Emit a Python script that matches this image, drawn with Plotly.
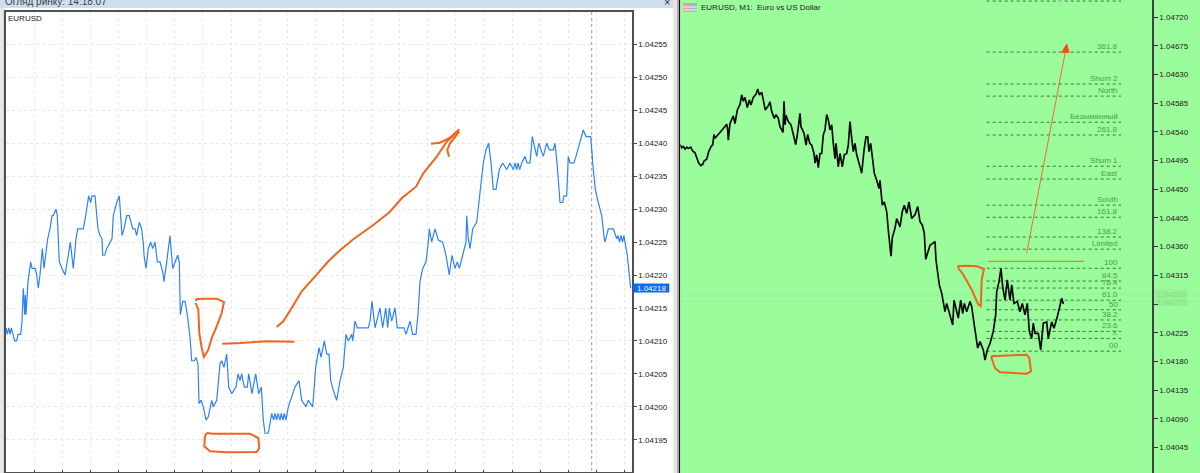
import plotly.graph_objects as go

W, H = 1200, 473
FONT = "Liberation Sans"

# ---------- left chart: market watch tick chart ----------
L_X = [6,7.3,8.7,10,11.3,12.7,14.7,16.7,18,20.7,22,23.3,24.7,25.3,26,28,29.3,30.7,32,35.3,36.7,38.3,40,42.3,44,46.7,47.7,50,52,53.3,56,57.3,58.3,59.3,62,65,68.3,70.3,73.3,76,77.7,79.3,81.3,83.3,85.7,87.3,88.7,90.7,92,95,96.7,98,100,102,102.7,104.7,106.7,110.7,112,113.3,116.7,119.3,120.7,122,124,126.7,129.3,132.7,135,136.7,139.3,141.7,142.7,143.3,144,146,148.3,150.7,152.7,155,157.3,160,162.7,164,166.7,170,172.7,175,177.7,179.3,180.3,182.7,185,187.3,190,191.7,194.3,196,198,199,201,203.3,206,208.3,211.7,213.3,216.7,220,221.7,224,226.7,228.7,231.7,236,238,240,241.7,244.3,247.3,248.7,252,255.7,258.7,261.3,263.3,265,268.3,271.7,273.7,275,276.7,278,280,281.3,283,284.3,286,288.3,295,299,301.7,306,308.3,312.7,315.7,319,321,324.3,326.7,329,330.7,333.3,336.7,340,343.3,346,348.3,351.7,352.7,355,357.3,368.3,370,372,375,380,382.7,385.7,387.7,389.3,391.7,395,397.3,404,406,408,410,412.7,416,418,420,422.7,426,428.3,429.3,431.7,435,438.3,442.7,446,449.3,452,455,457.3,459.3,462.7,466,466.7,468.3,470,472.7,476.7,480,483.3,486,488.7,491,493.3,496,499.3,502.7,506.7,510,513.3,515,516.7,518,519.7,521.7,525,527,530,532.3,534,536.7,538.7,541,543.3,546.7,549.3,553.3,555,557.3,560,562.7,564,566.7,568.3,570,574,576,579.3,583.3,586,590.7,593.3,595.3,598.3,601.7,604.3,605,608.3,613.3,616.7,618,619.5,621,622.5,624,625,627.3,629.3,630.7]
L_PRICE = [1.04212,1.04211,1.04212,1.04211,1.04212,1.04211,1.0421,1.0421,1.04211,1.04211,1.04213,1.04218,1.04214,1.04217,1.04214,1.04219,1.04221,1.04222,1.04221,1.04221,1.0422,1.04218,1.0422,1.04224,1.04221,1.04224,1.042255,1.04227,1.04229,1.04229,1.0423,1.04229,1.04226,1.04222,1.04221,1.0422,1.04223,1.04225,1.04221,1.042255,1.04227,1.04227,1.04227,1.04227,1.04229,1.04231,1.04232,1.04231,1.04232,1.04232,1.04229,1.04227,1.04226,1.042255,1.04223,1.04223,1.04224,1.04225,1.042255,1.04229,1.04231,1.04232,1.04229,1.04226,1.04227,1.04229,1.04229,1.04227,1.04227,1.04226,1.04228,1.04227,1.042255,1.04225,1.04223,1.04221,1.04224,1.04225,1.04224,1.04225,1.04222,1.04222,1.042205,1.04219,1.04222,1.04226,1.04221,1.04222,1.04223,1.04222,1.04214,1.04216,1.04216,1.04214,1.042106,1.04207,1.04207,1.042075,1.042065,1.042005,1.04201,1.042,1.04198,1.041985,1.04201,1.042,1.04201,1.042065,1.04207,1.04206,1.04208,1.04203,1.04202,1.04203,1.04205,1.04204,1.04205,1.04203,1.04203,1.04205,1.04202,1.04205,1.04202,1.04203,1.04198,1.04196,1.04196,1.04199,1.04198,1.04199,1.04198,1.04199,1.04198,1.04199,1.04198,1.04199,1.04198,1.042,1.04203,1.04204,1.04201,1.042,1.04201,1.042,1.04206,1.04209,1.042075,1.0421,1.04208,1.04208,1.04204,1.042025,1.04201,1.04204,1.04206,1.04211,1.0421,1.04211,1.0421,1.04213,1.04212,1.04212,1.04213,1.04216,1.04212,1.04215,1.04212,1.04215,1.04212,1.04215,1.04213,1.04215,1.04212,1.04212,1.04211,1.04212,1.04213,1.04211,1.04211,1.04214,1.04219,1.04221,1.04222,1.04225,1.04227,1.04225,1.04227,1.042253,1.04225,1.04223,1.0422,1.04223,1.04221,1.04222,1.04221,1.04223,1.04225,1.04229,1.042255,1.04224,1.04227,1.04228,1.04233,1.04237,1.04239,1.0424,1.04237,1.04233,1.04233,1.04236,1.04237,1.04236,1.04237,1.04236,1.04237,1.04236,1.04237,1.04236,1.04237,1.04238,1.04237,1.04237,1.04241,1.0424,1.04238,1.0424,1.04239,1.04238,1.0424,1.04239,1.04239,1.0424,1.042365,1.04231,1.04231,1.04232,1.04232,1.04238,1.04237,1.04237,1.04238,1.0424,1.04242,1.04241,1.04241,1.04236,1.04233,1.04231,1.04229,1.042255,1.04225,1.04227,1.04227,1.042255,1.04226,1.04225,1.04226,1.04225,1.04226,1.04225,1.04223,1.0422,1.04218]
L_TICKS = [1.04255,1.0425,1.04245,1.0424,1.04235,1.0423,1.04225,1.0422,1.04215,1.0421,1.04205,1.042,1.04195]
L_TICK_TEXT = ["1.04255","1.04250","1.04245","1.04240","1.04235","1.04230","1.04225","1.04220","1.04215","1.04210","1.04205","1.04200","1.04195"]
L_LAST = 1.04218
L_CURSOR_X = 591.7

# ---------- right chart: EURUSD M1 ----------
R_X = [680,681.7,683.3,685,686.7,688.3,690.7,692.7,695,696.7,698.7,700.7,702.7,704,706.7,708.7,710.7,712.7,714,715,717.3,720,722.7,724.7,726.7,727.7,728.3,730,731.7,733.3,735,737.3,740,741.7,743.3,745,747.3,749.3,751,753.3,756,757.7,759.3,761.7,763.3,765.3,768.3,770,771.7,774.3,776,778.3,780,783,784,785,786,788.3,791,794,795.7,797.3,800,801,804,806,807.7,809.7,811.7,814,815,816.7,818.3,820,821.7,823.3,825,826.7,828.3,830,831.7,833.3,835,836,838.3,840,842.3,844.3,846.7,848.3,850,851.7,853.3,855,856.7,860,861.7,864,866,867.7,869,870.7,872.7,874.3,876.7,879,880,882.3,884.3,886.7,888.3,891,892.3,895,896.7,900,902.3,904.3,906.7,909,911.7,915,917.7,920,922.3,924.3,925.7,929,930,932.7,935,936,937.3,939.3,941.7,943.3,945,946.7,948.3,950.7,952.7,954,956,958.3,960.7,962.7,964.3,966.7,970,971.7,974,976,977.7,980,981.7,983.3,985,987.3,990,993.3,995.7,996.7,999,1001,1002.7,1005,1007.3,1010,1011.7,1014,1017.3,1020,1022.3,1025,1027.3,1029.3,1031.7,1033.3,1035,1038.3,1040.7,1043.3,1046.7,1048.3,1051.7,1054,1057.3,1060,1061.7,1063.3]
R_PRICE = [1.0452,1.04515,1.04517,1.04513,1.04516,1.04514,1.04516,1.0451,1.04507,1.04499,1.04491,1.04487,1.04489,1.04494,1.04497,1.04509,1.04516,1.0452,1.04536,1.0453,1.04534,1.04538,1.04544,1.04548,1.04552,1.04543,1.04527,1.04553,1.04561,1.04565,1.04553,1.04574,1.04583,1.04598,1.04588,1.04594,1.04578,1.0459,1.04582,1.04594,1.04599,1.04607,1.04598,1.04602,1.0459,1.04574,1.04581,1.04587,1.04572,1.04561,1.04567,1.04561,1.04548,1.04539,1.04588,1.04551,1.04566,1.04556,1.04551,1.04532,1.0452,1.04535,1.04569,1.04548,1.04538,1.04519,1.04536,1.04522,1.04519,1.04506,1.04491,1.04504,1.04484,1.04506,1.04506,1.04535,1.04543,1.04567,1.04559,1.04543,1.04551,1.04522,1.04498,1.04522,1.04485,1.04506,1.04485,1.04504,1.04506,1.04519,1.04556,1.0453,1.04509,1.04522,1.04504,1.04485,1.04475,1.04511,1.04532,1.04532,1.04509,1.04522,1.04493,1.04475,1.04464,1.04451,1.04464,1.04425,1.0443,1.04415,1.04386,1.04345,1.04374,1.04389,1.04404,1.04391,1.04415,1.04425,1.04412,1.0443,1.04404,1.0441,1.04423,1.04399,1.04394,1.04381,1.0434,1.04358,1.04362,1.04365,1.04368,1.04339,1.04321,1.043,1.04287,1.04271,1.04258,1.04271,1.04261,1.0425,1.04237,1.04276,1.04261,1.04248,1.04276,1.04255,1.04271,1.04258,1.04274,1.04266,1.0424,1.04221,1.04201,1.04211,1.04203,1.04198,1.04182,1.04198,1.04208,1.04227,1.04253,1.04289,1.04305,1.04326,1.04297,1.04276,1.04308,1.04276,1.043,1.04271,1.04274,1.04258,1.04271,1.04253,1.04271,1.04227,1.04216,1.0424,1.04224,1.04224,1.04198,1.0424,1.04242,1.04216,1.04242,1.04232,1.0425,1.04271,1.04279,1.0427]
R_TICKS = [1.0472,1.04675,1.0463,1.04585,1.0454,1.04495,1.0445,1.04405,1.0436,1.04315,1.0427,1.04225,1.0418,1.04135,1.0409,1.04045]
R_TICK_TEXT = ["1.04720","1.04675","1.04630","1.04585","1.04540","1.04495","1.04450","1.04405","1.04360","1.04315","","1.04225","1.04180","1.04135","1.04090","1.04045"]

FIB_LEVELS = [1.04745,1.04665,1.04615,1.04596,1.04555,1.04535,1.04486,1.04466,1.04425,1.04406,1.04375,1.04356,1.04326,1.04306,1.04295,1.04276,1.04261,1.04245,1.04227,1.04216,1.04196]
FIB_LABELS = ["","361.8","Shum 2","North","Безымянный","261.8","Shum 1","East","South","161.8","138.2","Limited","100","84.5","76.4","61.0","50","38.2","23.6","X","00"]
FIB_X0, FIB_X1 = 986.7, 1121
HIDDEN_PRICES = [1.04286, 1.04273]

# ---------- hand-drawn orange strokes (screen pixels) ----------
ORANGE = "#F0641E"
STROKES = [
    [(196,301.3),(196.7,299),(206.7,298.7),(216.7,298.7),(224,302),(221.7,313),(216.7,326.3),(211.7,338),(208.3,349.7),(204,357),(201.7,348),(199.3,333),(198.3,309.7),(195.7,303)],
    [(222.3,343.7),(240,343),(266.7,341.3),(294.3,341.7)],
    [(206.7,433),(205,436.3),(204.3,446.3),(210,451.3),(226.7,452.3),(256.7,452),(259.3,448),(258.3,438),(250,433.7),(230,433.7),(213.3,433.7),(206.7,433)],
    [(276.7,327),(283.3,321.3),(291.7,308),(301.7,291.3),(316.7,274.7),(328.3,261.3),(340,250.3),(353.3,239.3),(373.3,225),(390,211.7),(401.7,198.3),(416,186.7),(423.3,173.3),(436.7,156.7),(446.7,141.7),(458.3,130.7)],
    [(431,143.7),(440,142.7),(450,137.7),(459.3,129.3)],
    [(459.3,131.7),(450,143.3),(447.3,150),(449,156.7)],
    [(958.3,268),(958.3,266.3),(966.7,265.7),(976.7,266.3),(984,269),(981.7,279.7),(980.7,306.3),(978.3,304.7),(971.7,289.7),(963.3,274.7),(958.3,268)],
    [(991,356.3),(1026.7,354.7),(1029.3,358),(1031,371.3),(1026.7,373.7),(1000,372.3),(995,368),(991,356.3)],
]


def px(x):
    return x / W


def py(y):
    return 1 - y / H


def rect(x0, y0, x1, y1, fill, layer="below"):
    return dict(type="rect", xref="paper", yref="paper", x0=px(x0), x1=px(x1), y0=py(y1), y1=py(y0),
                fillcolor=fill, line_width=0, layer=layer)


def path(points, color=ORANGE, width=2, fill=None):
    d = "M" + " L".join(f"{px(x):.5f},{py(y):.5f}" for x, y in points)
    if fill:
        d += " Z"
    s = dict(type="path", xref="paper", yref="paper", path=d, line=dict(color=color, width=width), layer="above")
    if fill:
        s["fillcolor"] = fill
    return s


def label(x, y, text, size=8, color="#303030", anchor="left"):
    return dict(xref="paper", yref="paper", x=px(x), y=py(y), text=text, showarrow=False, xanchor=anchor,
                yanchor="middle", xshift=0, font=dict(family=FONT, size=size, color=color), borderpad=0, borderwidth=0)


fig = go.Figure()
fig.add_trace(go.Scatter(x=L_X, y=L_PRICE, mode="lines", line=dict(color="#2E82F8", width=1.2), xaxis="x", yaxis="y", hoverinfo="skip"))
fig.add_trace(go.Scatter(x=R_X, y=R_PRICE, mode="lines", line=dict(color="#0A0A0A", width=1.7), xaxis="x2", yaxis="y2", hoverinfo="skip"))

shapes = [
    rect(0, 0, 673, 8, "#CDDEEE"),
    rect(0, 8, 673, 473, "#FFFFFF"),
    rect(0, 8, 4, 473, "#E8E8E8"),
    rect(3.5, 11, 5, 473, "#BDBDBD"),
    rect(673, 0, 677, 473, "#E6E6E6"),
    rect(677, 0, 679, 473, "#A8A8A8"),
    rect(679, 0, 680.3, 473, "#101010"),
    rect(680.3, 0, 1200, 473, "#9BFC9B"),
    # faint bands of hidden price lines and labels
    rect(680.3, 293.5, 1200, 294.5, "#94F394"),
    rect(680.3, 301, 1200, 302, "#94F394"),
    rect(1154, 289, 1188, 306, "#95F295"),
    # symbol icon
    rect(683, 3, 697, 12, "#E8A0A0"),
    rect(690, 3, 697, 12, "#8FBBD8"),
    rect(683, 6.5, 697, 7.5, "#F4F4F4"),
    rect(683, 9.5, 697, 10.5, "#F4F4F4"),
]
# left: last price box
shapes.append(rect(633.3, 283.6, 669.3, 292.6, "#0A6CF5", layer="above"))
# left: cursor line
shapes.append(dict(type="line", xref="x", yref="paper", x0=L_CURSOR_X, x1=L_CURSOR_X, y0=py(471), y1=py(12),
                   line=dict(color="#9A9A9A", width=1, dash="3px,3px"), layer="below"))
# fibonacci levels
for lv in FIB_LEVELS:
    shapes.append(dict(type="line", xref="x2", yref="y2", x0=FIB_X0, x1=FIB_X1, y0=lv, y1=lv,
                       line=dict(color="#347A34", width=1, dash="3px,3px"), layer="below"))
# right: orange level line and red arrow
shapes.append(path([(988.3, 261.3), (1084, 261.3)], color="#F0641E", width=1))
shapes.append(path([(1026.7, 253), (1065.7, 50)], color="#F26A30", width=1))
shapes.append(path([(1066.7, 44), (1062, 52.3), (1069, 52.3)], color="#FF4A10", width=1, fill="#FF4A10"))
shapes.append(rect(1059.5, 0, 1062, 1.8, "#C8B4C8", layer="above"))
for s in STROKES:
    shapes.append(path(s))

annotations = [
    label(5, 1.5, "Огляд ринку: 14:18:07", size=10, color="#404040"),
    label(664, 2, "×", size=11, color="#303030"),
    label(8, 18.5, "EURUSD", size=8, color="#202020"),
    label(701, 7.5, "EURUSD, M1:  Euro vs US Dollar", size=8, color="#202020"),
    label(637, 288.2, "1.04218", size=8, color="#FFFFFF"),
    label(1157, 294, f"{HIDDEN_PRICES[0]:.5f}", size=8, color="#86DE86"),
    label(1157, 302, f"{HIDDEN_PRICES[1]:.5f}", size=8, color="#86DE86"),
]
for lv, txt in zip(FIB_LEVELS, FIB_LABELS):
    if txt:
        annotations.append(dict(xref="x2", yref="y2", x=1119, y=lv, text=txt, showarrow=False, xanchor="right",
                                yanchor="bottom", yshift=0, borderpad=0,
                                font=dict(family=FONT, size=8, color="#4A9C4A")))

tickfont = dict(family=FONT, size=8, color="#202020")
fig.update_layout(
    width=W, height=H, autosize=False, margin=dict(l=0, r=0, t=0, b=0),
    paper_bgcolor="#FFFFFF", plot_bgcolor="rgba(0,0,0,0)", showlegend=False,
    shapes=shapes, annotations=annotations,
    xaxis=dict(domain=[px(6), px(632)], range=[6, 632], tick0=34.3, dtick=28.1, showticklabels=False,
               ticks="inside", ticklen=2, tickcolor="#444444", showgrid=True, gridcolor="#E8E8E8", griddash="3px,3px",
               showline=True, mirror=True, linecolor="#505050", linewidth=1.5, zeroline=False, anchor="y"),
    yaxis=dict(domain=[py(471.5), py(12)], range=[1.041902, 1.042599], side="right", tickvals=L_TICKS, ticktext=L_TICK_TEXT,
               ticks="outside", ticklen=3, tickcolor="#444444", tickfont=tickfont, showgrid=True, gridcolor="#E8E8E8",
               griddash="3px,3px", showline=True, mirror=True, linecolor="#505050", linewidth=1.5, zeroline=False, anchor="x"),
    xaxis2=dict(domain=[px(680.3), px(1152)], range=[680.3, 1152], visible=False, anchor="y2"),
    yaxis2=dict(domain=[0, 1], range=[1.04005, 1.047467], side="right", tickvals=R_TICKS, ticktext=R_TICK_TEXT,
                ticks="outside", ticklen=4, tickcolor="#303030", tickfont=tickfont, showgrid=False,
                showline=True, linecolor="#404040", linewidth=1.5, zeroline=False, anchor="x2"),
)

fig.write_html("out.html", config=dict(displayModeBar=False),
               post_script="document.body.style.margin='0';document.documentElement.style.overflow='hidden';")
